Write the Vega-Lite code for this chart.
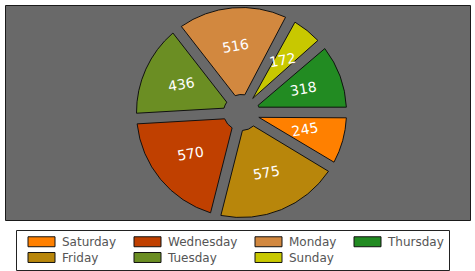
{
  "$schema": "https://vega.github.io/schema/vega-lite/v6.json",
  "width": 465,
  "height": 215,
  "autosize": "none",
  "padding": {"left": 5, "top": 5, "right": 5, "bottom": 51},
  "background": "white",
  "view": {"fill": "#696969", "stroke": "#1a1a1a", "strokeWidth": 1},
  "data": {
    "values": [
      {"day": "Saturday", "value": 245, "ord": 1},
      {"day": "Friday", "value": 575, "ord": 2},
      {"day": "Wednesday", "value": 570, "ord": 3},
      {"day": "Tuesday", "value": 436, "ord": 4},
      {"day": "Monday", "value": 516, "ord": 5},
      {"day": "Sunday", "value": 172, "ord": 6},
      {"day": "Thursday", "value": 318, "ord": 7}
    ]
  },
  "encoding": {
    "theta": {"field": "value", "type": "quantitative", "stack": true, "scale": {"range": [1.5708, 7.854]}},
    "order": {"field": "ord", "type": "quantitative"}
  },
  "layer": [
    {
      "mark": {"type": "arc", "x": {"expr": "width/2 + 4"}, "outerRadius": 105, "innerRadius": 18, "padAngle": 0.1, "stroke": "#111", "strokeWidth": 1},
      "encoding": {
        "color": {
          "field": "day",
          "type": "nominal",
          "scale": {
            "domain": ["Saturday", "Wednesday", "Monday", "Thursday", "Friday", "Tuesday", "Sunday"],
            "range": ["#FF8000", "#C04000", "#D2883F", "#228B22", "#B8860B", "#6B8E23", "#C8C800"]
          },
          "legend": {
            "orient": "none",
            "legendX": 11,
            "legendY": 225,
            "direction": "horizontal",
            "columns": 4,
            "title": null,
            "symbolType": "M-2.25,-0.83H2.25V0.83H-2.25Z",
            "symbolSize": 144,
            "symbolStrokeColor": "#111",
            "symbolStrokeWidth": 1,
            "symbolOpacity": 1,
            "labelFont": "DejaVu Sans",
            "labelFontSize": 12,
            "labelColor": "#555",
            "padding": 5,
            "symbolOffset": 14,
            "strokeColor": "#222",
            "fillColor": "white",
            "rowPadding": 1,
            "columnPadding": 10,
            "labelOffset": 14
          }
        }
      }
    },
    {
      "mark": {"type": "text", "x": {"expr": "width/2 + 4"}, "radius": 66, "angle": 350, "fill": "white", "font": "DejaVu Sans", "fontSize": 14},
      "encoding": {"text": {"field": "value", "type": "quantitative"}}
    }
  ]
}
